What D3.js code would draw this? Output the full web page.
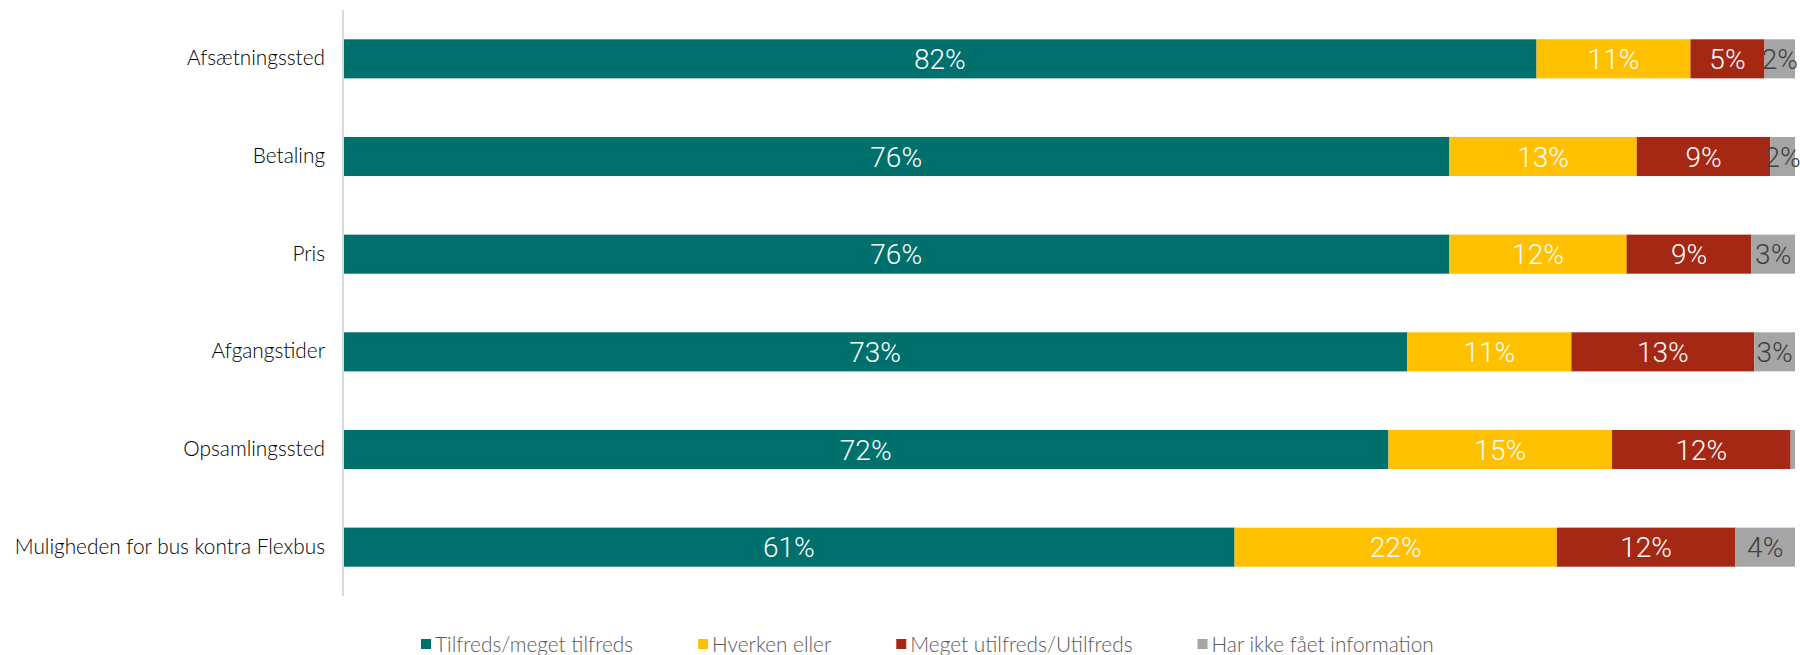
<!DOCTYPE html>
<html>
<head>
<meta charset="utf-8">
<script src="https://cdn.jsdelivr.net/npm/d3@7"></script>
<style>
  html, body { margin: 0; padding: 0; background: #fff; }
  svg { display: block; }
</style>
</head>
<body>
<svg id="chart" width="1800" height="655"></svg>
<script>
// Satisfaction with the booking/trip aspects, share of respondents (%)
const categories = [
  "Afsætningssted",
  "Betaling",
  "Pris",
  "Afgangstider",
  "Opsamlingssted",
  "Muligheden for bus kontra Flexbus"
];
const seriesNames = [
  "Tilfreds/meget tilfreds",
  "Hverken eller",
  "Meget utilfreds/Utilfreds",
  "Har ikke fået information"
];
const tilfreds  = [82.2, 76.2, 76.2, 73.3, 72.0, 61.4];
const hverken   = [10.6, 12.9, 12.2, 11.3, 15.4, 22.2];
const utilfreds = [ 5.1,  9.2,  8.6, 12.6, 12.3, 12.3];
const ikkeInfo  = [ 2.1,  1.7,  3.0,  2.8,  0.3,  4.1];

const colors     = ["#00706c", "#ffc000", "#a52814", "#a5a5a5"];
const textColors = ["#ffffff", "#ffffff", "#ffffff", "#404040"];

const rows = categories.map((c, i) => ({
  cat: c,
  [seriesNames[0]]: tilfreds[i],
  [seriesNames[1]]: hverken[i],
  [seriesNames[2]]: utilfreds[i],
  [seriesNames[3]]: ikkeInfo[i]
}));

const svg = d3.select("#chart");
const margin = { left: 343, right: 5, top: 10 };
const plotBottom = 596;

const x = d3.scaleLinear().domain([0, 100]).range([margin.left, 1800 - margin.right]);
const y = d3.scaleBand().domain(categories).range([margin.top, plotBottom])
  .paddingInner(0.6).paddingOuter(0.3);

const stack = d3.stack().keys(seriesNames)(rows);

const layers = svg.append("g").selectAll("g")
  .data(stack).join("g")
  .attr("fill", (d, i) => colors[i]);

layers.selectAll("rect")
  .data(d => d)
  .join("rect")
  .attr("x", d => x(d[0]))
  .attr("y", d => y(d.data.cat))
  .attr("width", d => x(d[1]) - x(d[0]))
  .attr("height", y.bandwidth());

// Value labels centred on each segment
const labelFont = "'Liberation Sans Narrow', 'Roboto', sans-serif";
svg.append("g").selectAll("g")
  .data(stack).join("g")
  .attr("fill", (d, i) => textColors[i])
  .selectAll("text")
  .data(d => d.filter(s => s[1] - s[0] >= 1))
  .join("text")
  .attr("x", d => (x(d[0]) + x(d[1])) / 2)
  .attr("y", d => y(d.data.cat) + y.bandwidth() / 2)
  .attr("dy", "0.36em")
  .attr("text-anchor", "middle")
  .style("font-family", labelFont)
  .style("font-weight", 300)
  .style("font-size", "28px")
  .text(d => Math.round(d[1] - d[0]) + "%");

// Category axis
const yAxis = svg.append("g")
  .attr("transform", `translate(${margin.left},0)`)
  .call(d3.axisLeft(y).tickSize(0).tickPadding(18));
yAxis.select(".domain")
  .attr("d", `M0,${margin.top}V${plotBottom}`)
  .attr("stroke", "#d9d9d9")
  .attr("stroke-width", 2);
yAxis.selectAll("text")
  .attr("fill", "#000")
  .style("font-family", "Lato, sans-serif")
  .style("font-weight", 300)
  .style("font-size", "20.8px");

// Legend
const legend = svg.append("g").attr("transform", "translate(421,644)");
let lx = 0;
seriesNames.forEach((name, i) => {
  const g = legend.append("g").attr("transform", `translate(${lx},0)`);
  g.append("rect").attr("x", 0).attr("y", -5).attr("width", 10).attr("height", 10)
    .attr("fill", colors[i]);
  const t = g.append("text").attr("x", 14).attr("dy", "0.36em")
    .attr("fill", "#595959")
    .style("font-family", "Lato, sans-serif")
    .style("font-weight", 300)
    .style("font-size", "20.8px")
    .text(name);
  lx += 14 + t.node().getComputedTextLength() + 65;
});
</script>
</body>
</html>
